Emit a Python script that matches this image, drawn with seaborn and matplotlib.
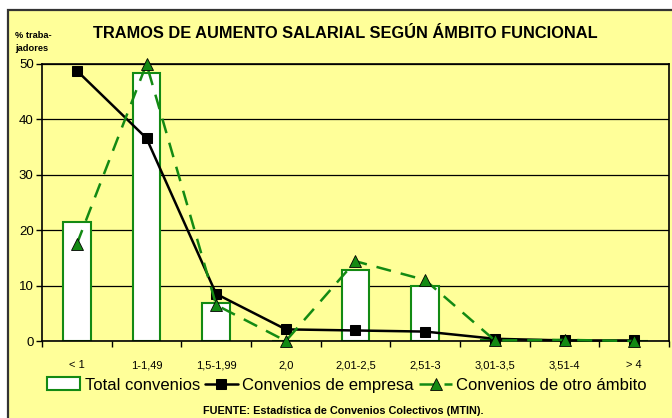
import numpy as np
import pandas as pd
import matplotlib
matplotlib.use('Agg')
import matplotlib.pyplot as plt
from matplotlib.patches import Rectangle
import seaborn as sns

# Tramos de aumento salarial segun ambito funcional

tramos = ['< 1', '1-1,49', '1,5-1,99', '2,0', '2,01-2,5', '2,51-3', '3,01-3,5', '3,51-4', '> 4']
total_convenios = [21.5, 48.3, 6.8, 0.0, 12.9, 9.9, 0.2, 0.1, 0.0]
convenios_empresa = [48.8, 36.6, 8.5, 2.1, 1.9, 1.7, 0.4, 0.1, 0.1]
convenios_otro = [17.5, 50.0, 6.5, 0.0, 14.4, 11.0, 0.1, 0.2, 0.0]

sns.set_style('white')
plt.rcParams['font.family'] = ['Liberation Sans', 'DejaVu Sans']
plt.rcParams['text.color'] = 'black'
plt.rcParams['xtick.color'] = 'black'
plt.rcParams['ytick.color'] = 'black'

yellow = '#FFFF99'
green = '#138A13'

df = pd.DataFrame({'tramo': tramos, 'total': total_convenios,
                   'empresa': convenios_empresa, 'otro': convenios_otro})
df['pos'] = np.arange(len(df))

fig = plt.figure(figsize=(6.72, 4.18), dpi=100)
fig.patch.set_facecolor('white')
fig.patches.append(Rectangle((8 / 672, -0.01), 1.0, 1 - 10 / 418 + 0.01,
                             transform=fig.transFigure, facecolor=yellow,
                             edgecolor='#333333', linewidth=1.6, zorder=-10))

ax = fig.add_axes([42 / 672, 1 - 341 / 418, 627 / 672, 277 / 418])
ax.set_facecolor(yellow)

sns.barplot(data=df, x='pos', y='total', ax=ax, width=0.4, color='white',
            edgecolor=green, linewidth=1.5, native_scale=True,
            label='Total convenios', zorder=2)
sns.lineplot(data=df, x='pos', y='empresa', ax=ax, color='black', linewidth=1.8,
             marker='s', markersize=7, markeredgecolor='black',
             label='Convenios de empresa', zorder=3, clip_on=False)
sns.lineplot(data=df, x='pos', y='otro', ax=ax, color=green, linewidth=1.8,
             linestyle=(0, (6, 4)), marker='^', markersize=8,
             markerfacecolor=green, markeredgecolor='black', markeredgewidth=0.6,
             label='Convenios de otro ámbito', zorder=4, clip_on=False)

ax.set_xlim(-0.5, len(tramos) - 0.5)
ax.set_ylim(0, 50)
ax.set_yticks(range(0, 51, 10))
ax.yaxis.grid(True, color='black', linewidth=0.9)
ax.set_axisbelow(True)
ax.set_xticks(df['pos'])
ax.set_xticklabels(tramos, fontsize=8)
ax.set_xticks(np.arange(-0.5, len(tramos), 1.0), minor=True)
ax.tick_params(axis='x', which='major', length=0, pad=14)
ax.tick_params(axis='x', which='minor', bottom=True, length=4, width=1, direction='out', color='black')
ax.tick_params(axis='y', left=True, length=4, width=1, direction='out', color='black', labelsize=9.5, pad=2)
ax.set_xlabel('')
ax.set_ylabel('')
for s in ax.spines.values():
    s.set_color('black')
    s.set_linewidth(1.2)

handles, labels = ax.get_legend_handles_labels()
order = [labels.index(l) for l in ['Total convenios', 'Convenios de empresa', 'Convenios de otro ámbito']]
if ax.get_legend():
    ax.get_legend().remove()
fig.legend([handles[i] for i in order], [labels[i] for i in order], loc='center',
           bbox_to_anchor=(347 / 672, 1 - 385 / 418), ncol=3, frameon=False,
           fontsize=12, handlelength=2.0, handleheight=0.8, handletextpad=0.25,
           columnspacing=0.3, borderpad=0)

fig.text(345 / 672, 1 - 33 / 418, 'TRAMOS DE AUMENTO SALARIAL SEGÚN ÁMBITO FUNCIONAL',
         ha='center', va='center', fontsize=11.8, fontweight='bold')
fig.text(15 / 672, 1 - 42 / 418, '% traba-\njadores', ha='left', va='center',
         fontsize=6.7, fontweight='bold', linespacing=1.55)
fig.text(343 / 672, 2 / 418, 'FUENTE: Estadística de Convenios Colectivos (MTIN).',
         ha='center', va='bottom', fontsize=7.8, fontweight='bold')

plt.savefig('out.png', dpi=100, facecolor=fig.get_facecolor())
